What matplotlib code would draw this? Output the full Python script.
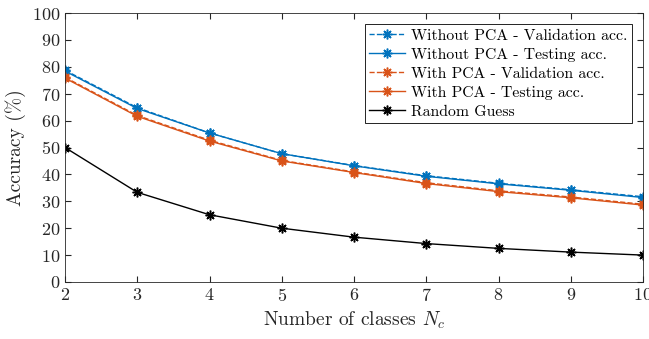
import numpy as np
import matplotlib
matplotlib.use("Agg")
import matplotlib.pyplot as plt

plt.rcParams['font.family'] = ['cmr10', 'DejaVu Serif']
plt.rcParams['mathtext.fontset'] = 'cm'
plt.rcParams['axes.formatter.use_mathtext'] = True

n_classes = [2, 3, 4, 5, 6, 7, 8, 9, 10]
nopca_val = [78.7, 64.8, 55.4, 47.7, 43.3, 39.5, 36.7, 34.3, 31.7]
nopca_test = [78.4, 64.5, 55.4, 47.7, 43.2, 39.3, 36.5, 34.1, 31.4]
pca_val = [76.1, 61.9, 52.7, 45.2, 40.9, 36.9, 33.9, 31.6, 28.9]
pca_test = [75.8, 61.6, 52.4, 45.0, 40.7, 36.6, 33.6, 31.3, 28.6]
random_guess = [100.0 / n for n in n_classes]

blue = '#0072BD'
orange = '#D95319'

fig = plt.figure(figsize=(6.49, 3.39), dpi=100)
ax = fig.add_axes([65 / 649, 1 - 282 / 339, 578 / 649, 269 / 339])

# matlab style asterisk marker
star = (8, 2, 0)
kw = dict(marker=star, lw=1, ms=7, mew=1.1)
ax.plot(n_classes, nopca_val, '--', color=blue,
        label='Without PCA - Validation acc.', **kw)
ax.plot(n_classes, nopca_test, '-', color=blue,
        label='Without PCA - Testing acc.', **kw)
ax.plot(n_classes, pca_val, '--', color=orange,
        label='With PCA - Validation acc.', **kw)
ax.plot(n_classes, pca_test, '-', color=orange,
        label='With PCA - Testing acc.', **kw)
ax.plot(n_classes, random_guess, '-', color='black',
        label='Random Guess', **kw)

ax.set_xlim(2, 10)
ax.set_ylim(0, 100)
ax.set_xticks(n_classes)
ax.set_yticks(np.arange(0, 101, 10))
ax.tick_params(direction='in', top=True, right=True, labelsize=13, length=4,
               color='#262626', labelcolor='#262626')
for s in ax.spines.values():
    s.set_color('#262626')
    s.set_linewidth(0.6)

ax.set_xlabel('Number of classes $N_c$', fontsize=14, color='#262626')
ax.set_ylabel('Accuracy (%)', fontsize=14, color='#262626')

leg = ax.legend(loc='upper right', fontsize=11.3, fancybox=False,
                edgecolor='black', framealpha=1, handlelength=2.3,
                handletextpad=0.35, labelspacing=0.32, borderpad=0.3,
                borderaxespad=0.7)
leg.get_frame().set_linewidth(0.6)

fig.savefig('out.png', dpi=100)
